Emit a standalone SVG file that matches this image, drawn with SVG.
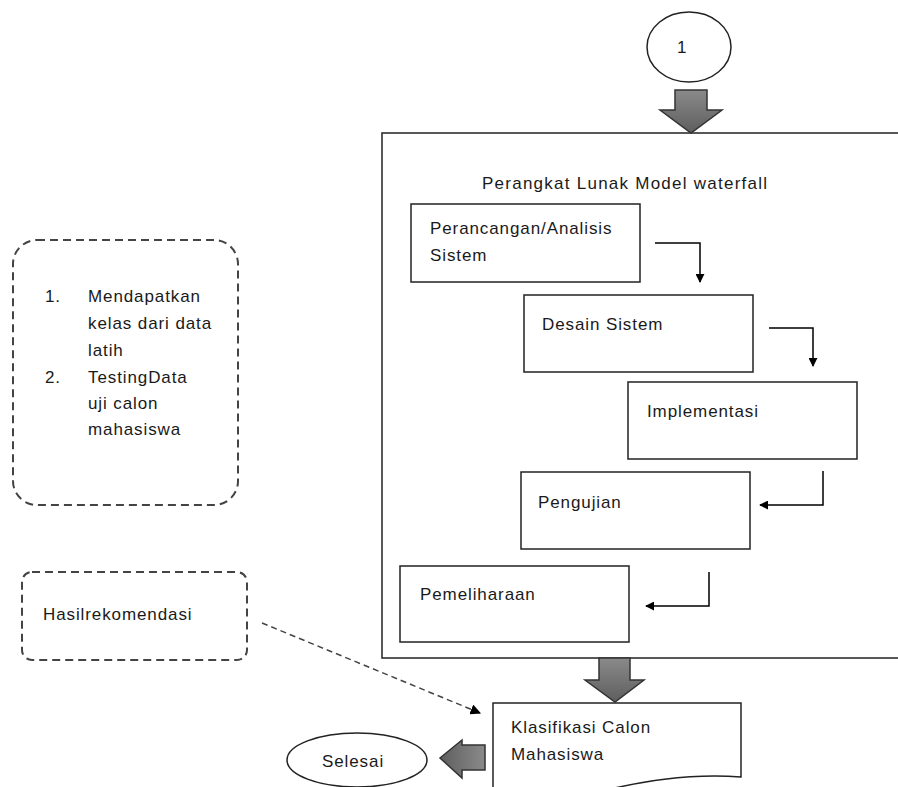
<svg xmlns="http://www.w3.org/2000/svg" width="898" height="787" viewBox="0 0 898 787">
<defs>
<linearGradient id="g" x1="0" y1="0" x2="0" y2="1"><stop offset="0" stop-color="#8a8a8a"/><stop offset="1" stop-color="#5e5e5e"/></linearGradient>
<linearGradient id="gh" x1="0" y1="0" x2="1" y2="0"><stop offset="0" stop-color="#5e5e5e"/><stop offset="1" stop-color="#8a8a8a"/></linearGradient>
<marker id="ah" viewBox="0 0 10 10" refX="9" refY="5" markerWidth="6" markerHeight="6" orient="auto"><path d="M0,0 L10,5 L0,10 z" fill="#000"/></marker>
<marker id="ahd" viewBox="0 0 10 10" refX="9" refY="5" markerWidth="7" markerHeight="7" orient="auto"><path d="M0,0 L10,5 L0,10 z" fill="#000"/></marker>
</defs>
<style>
.t{font-family:"Liberation Sans",Arial,sans-serif;font-size:17px;letter-spacing:0.9px;fill:#1a1a1a}
.box{fill:#fff;stroke:#222;stroke-width:1.5}
.dash{fill:#fff;stroke:#444;stroke-width:2;stroke-dasharray:8,5}
.blk{stroke:#333;stroke-width:1.5}
.con{fill:none;stroke:#000;stroke-width:1.5}
</style>
<rect width="898" height="787" fill="#fff"/>
<g id="start"><ellipse cx="689" cy="47" rx="42" ry="35" class="box"/><text class="t" x="677" y="53">1</text></g>
<g id="waterfall"><rect x="382" y="133" width="530" height="525" class="box"/><text class="t" x="482" y="189" textLength="286">Perangkat Lunak Model waterfall</text></g>
<g id="analisis"><rect x="411" y="204" width="229" height="78" class="box"/><text class="t" x="430" y="234">Perancangan/Analisis</text><text class="t" x="430" y="261">Sistem</text></g>
<g id="desain"><rect x="524" y="295" width="229" height="77" class="box"/><text class="t" x="542" y="330">Desain Sistem</text></g>
<g id="implementasi"><rect x="628" y="382" width="229" height="77" class="box"/><text class="t" x="647" y="417">Implementasi</text></g>
<g id="pengujian"><rect x="521" y="472" width="229" height="77" class="box"/><text class="t" x="538" y="508">Pengujian</text></g>
<g id="pemeliharaan"><rect x="400" y="566" width="229" height="76" class="box"/><text class="t" x="420" y="600">Pemeliharaan</text></g>
<g id="langkah"><rect x="13" y="240" width="225" height="265" rx="24" class="dash"/>
<text class="t" x="45" y="302">1.</text><text class="t" x="88" y="302">Mendapatkan</text>
<text class="t" x="88" y="329">kelas dari data</text>
<text class="t" x="88" y="356">latih</text>
<text class="t" x="45" y="383">2.</text><text class="t" x="88" y="383">TestingData</text>
<text class="t" x="88" y="409">uji calon</text>
<text class="t" x="88" y="435">mahasiswa</text></g>
<g id="hasil"><rect x="22" y="572" width="225" height="88" rx="10" class="dash"/><text class="t" x="43" y="620">Hasilrekomendasi</text></g>
<g id="klasifikasi"><path d="M493,795 V703 H741 V777 C690,773 640,781 585,795" class="box"/><text class="t" x="511" y="733">Klasifikasi Calon</text><text class="t" x="511" y="760">Mahasiswa</text></g>
<g id="selesai"><ellipse cx="357" cy="760" rx="70" ry="27" class="box"/><text class="t" x="322" y="767">Selesai</text></g>
<g id="connectors">
<path d="M675,90 H707 V110 H722 L691,133 L660,110 H675 Z" fill="url(#g)" class="blk"/>
<path d="M599,658 H630 V680 H644 L615,702 L585,680 H599 Z" fill="url(#g)" class="blk"/>
<path d="M485,745 V770 H462 V778 L440,758 L462,740 V745 Z" fill="url(#gh)" class="blk"/>
<path d="M655,243 H700 V282" class="con" marker-end="url(#ah)"/>
<path d="M769,328 H813 V366" class="con" marker-end="url(#ah)"/>
<path d="M823,471 V505 H760" class="con" marker-end="url(#ah)"/>
<path d="M709,572 V606 H646" class="con" marker-end="url(#ah)"/>
<path d="M262,623 L480,713" fill="none" stroke="#444" stroke-width="1.5" stroke-dasharray="6,4" marker-end="url(#ahd)"/>
</g>
</svg>
